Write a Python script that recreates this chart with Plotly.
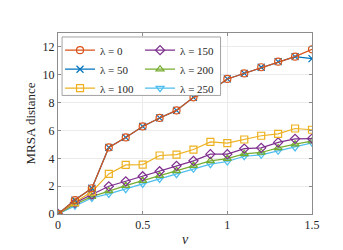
import plotly.graph_objects as go

nu = [0, 0.1, 0.2, 0.3, 0.4, 0.5, 0.6, 0.7, 0.8, 0.9, 1.0, 1.1, 1.2, 1.3, 1.4, 1.5]
lam0 = [0, 1.0, 1.85, 4.78, 5.5, 6.29, 6.9, 7.44, 8.38, 8.83, 9.7, 10.1, 10.54, 10.94, 11.3, 11.83]
lam50 = [0, 1.0, 1.85, 4.78, 5.5, 6.29, 6.9, 7.44, 8.38, 8.83, 9.7, 10.1, 10.54, 10.94, 11.3, 11.16]
lam100 = [0, 0.85, 1.6, 2.88, 3.53, 3.55, 4.2, 4.27, 4.63, 5.18, 5.09, 5.35, 5.62, 5.76, 6.14, 6.05]
lam150 = [0, 0.8, 1.4, 1.99, 2.35, 2.71, 3.07, 3.46, 3.82, 4.3, 4.3, 4.7, 4.75, 5.14, 5.4, 5.42]
lam200 = [0, 0.7, 1.25, 1.66, 2.04, 2.4, 2.76, 3.1, 3.48, 3.82, 3.98, 4.32, 4.42, 4.75, 5.02, 5.23]
lam250 = [0, 0.6, 1.15, 1.44, 1.78, 2.16, 2.52, 2.86, 3.24, 3.58, 3.77, 4.15, 4.25, 4.54, 4.78, 5.11]

labels = ["λ = 0", "λ = 50", "λ = 100", "λ = 150", "λ = 200", "λ = 250"]
series = [lam0, lam50, lam100, lam150, lam200, lam250]
colors = ["#D95319", "#0072BD", "#EDB120", "#7E2F8E", "#77AC30", "#4DBEEE"]
symbols = ["circle-open", "x-thin-open", "square-open", "diamond-open", "triangle-up-open", "triangle-down-open"]
legends = ["legend", "legend", "legend", "legend2", "legend2", "legend2"]

font = "Liberation Serif, DejaVu Serif, serif"

fig = go.Figure()
# draw in reverse so that λ = 0 ends up on top
for i in reversed(range(len(labels))):
    fig.add_trace(go.Scatter(
        x=nu, y=series[i], name=labels[i], mode="lines+markers",
        line=dict(color=colors[i], width=1.2),
        marker=dict(symbol=symbols[i], size=7, color=colors[i], line=dict(width=1.2, color=colors[i])),
        legend=legends[i], legendrank=i + 1,
    ))

axis_common = dict(
    showline=True, linecolor="#8C8C8C", linewidth=1, mirror="allticks",
    ticks="inside", ticklen=3, tickcolor="#8C8C8C",
    showgrid=True, gridcolor="#EBEBEB", gridwidth=0.8, zeroline=False,
    tickfont=dict(family=font, size=12, color="#262626"),
)

fig.update_layout(
    width=343, height=250,
    margin=dict(l=50, r=39, t=25, b=44),
    paper_bgcolor="white", plot_bgcolor="white",
    font=dict(family=font, size=11, color="#262626"),
    xaxis=dict(range=[0, 1.5], tickvals=[0, 0.5, 1, 1.5], ticktext=["0", "0.5", "1", "1.5"],
               title=dict(text="<i>ν</i>", font=dict(family=font, size=14), standoff=2), **axis_common),
    yaxis=dict(range=[0, 13], tickvals=[0, 2, 4, 6, 8, 10, 12],
               title=dict(text="MRSA distance", font=dict(family=font, size=13), standoff=4), **axis_common),
    legend=dict(x=0.008, y=0.985, xanchor="left", yanchor="top", bgcolor="rgba(0,0,0,0)",
                font=dict(family=font, size=11), itemwidth=30, tracegroupgap=0),
    legend2=dict(x=0.323, y=0.985, xanchor="left", yanchor="top", bgcolor="rgba(0,0,0,0)",
                 font=dict(family=font, size=11), itemwidth=30, tracegroupgap=0),
    shapes=[dict(type="rect", xref="paper", yref="paper", x0=0.016, x1=0.64, y0=0.655, y1=0.978,
                 line=dict(color="#8C8C8C", width=0.8), fillcolor="white", layer="above")],
)

fig.write_html("out.html")
